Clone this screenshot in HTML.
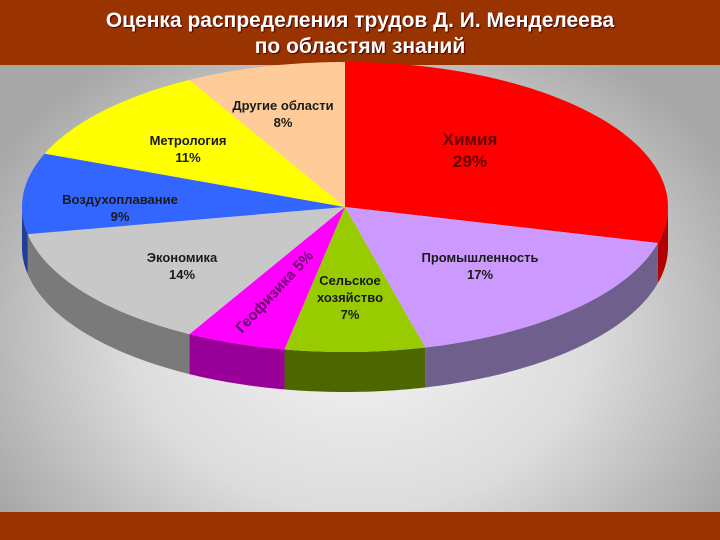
<!DOCTYPE html>
<html><head><meta charset="utf-8"><style>
body{margin:0;width:720px;height:540px;overflow:hidden;font-family:"Liberation Sans",sans-serif;}
#bg{position:absolute;left:0;top:0;width:720px;height:540px;background:radial-gradient(ellipse 420px 330px at 360px 330px,#f4f4f4 0%,#dcdcdc 55%,#a8a8a8 100%);}
#hdr{position:absolute;left:0;top:0;width:720px;height:65px;background:#993300;color:#fff;font-weight:bold;font-size:21px;text-align:center;line-height:26px;padding-top:8px;box-sizing:border-box;text-shadow:1px 1px 1px #400;}
#ftr{position:absolute;left:0;top:512px;width:720px;height:28px;background:#993300;}
svg{position:absolute;left:0;top:0;}
</style></head><body>
<div id="bg"></div>
<div id="hdr">Оценка распределения трудов Д. И. Менделеева<br>по областям знаний</div>
<div id="ftr"></div>
<svg id="chart" width="720" height="540"></svg>
<script>
const categories=["Химия","Промышленность","Сельское хозяйство","Геофизика","Экономика","Воздухоплавание","Метрология","Другие области"];
const values=[29,17,7,5,14,9,11,8];
const topColors=["#ff0000","#cc99ff","#99cc00","#ff00ff","#c8c8c8","#3366ff","#ffff00","#ffcc99"];
const sideColors=["#b00000","#6e5f8c","#4d6600","#990099","#7a7a7a","#1f3d99","#999900","#b08060"];
const cx=345,cy=207,rx=323,ry=145,depth=40;
const svg=document.getElementById('chart');const NS="http://www.w3.org/2000/svg";
const total=values.reduce((a,b)=>a+b,0);
function pt(a,dy){return [cx+rx*Math.sin(a),cy-ry*Math.cos(a)+(dy||0)];}
let acc=0;const slices=[];
values.forEach((v,i)=>{const a0=acc/total*2*Math.PI;acc+=v;const a1=acc/total*2*Math.PI;slices.push({a0,a1,i});});
// sides
slices.forEach(s=>{
  const lo=Math.max(s.a0,Math.PI/2),hi=Math.min(s.a1,3*Math.PI/2);
  if(hi<=lo)return;
  const n=40;let top=[],bot=[];
  for(let k=0;k<=n;k++){const a=lo+(hi-lo)*k/n;top.push(pt(a));bot.push(pt(a,depth));}
  const p=top.concat(bot.reverse()).map(q=>q.join(',')).join(' ');
  const el=document.createElementNS(NS,'polygon');el.setAttribute('points',p);el.setAttribute('fill',sideColors[s.i]);
  
  
  svg.appendChild(el);
});
// tops
slices.forEach(s=>{
  const n=60;let pts=[[cx,cy]];
  for(let k=0;k<=n;k++){pts.push(pt(s.a0+(s.a1-s.a0)*k/n));}
  const el=document.createElementNS(NS,'polygon');el.setAttribute('points',pts.map(q=>q.join(',')).join(' '));el.setAttribute('fill',topColors[s.i]);
  
  
  svg.appendChild(el);
});
// labels
const labelPos=[[470,145,17],[480,262,13],[350,285,13],[0,0,0],[182,262,13],[120,204,13],[188,145,13],[283,110,13]];
const labelLines=[["Химия"],["Промышленность"],["Сельское","хозяйство"],[],["Экономика"],["Воздухоплавание"],["Метрология"],["Другие области"]];
labelPos.forEach((lp,i)=>{
  if(i===3)return;
  const t=document.createElementNS(NS,'text');t.setAttribute('x',lp[0]);t.setAttribute('y',lp[1]);
  t.setAttribute('font-size',lp[2]);t.setAttribute('font-weight','bold');t.setAttribute('text-anchor','middle');
  t.setAttribute('fill',i===0?'#660000':'#1a1a1a');t.setAttribute('font-family','Liberation Sans, sans-serif');
  const lines=labelLines[i].concat([values[i]+'%']);
  lines.forEach((l,j)=>{const ts=document.createElementNS(NS,'tspan');ts.setAttribute('x',lp[0]);ts.setAttribute('dy',j?lp[2]*1.3:0);ts.textContent=l;t.appendChild(ts);});
  
  
  svg.appendChild(t);
});
const g=document.createElementNS(NS,'text');g.setAttribute('x',0);g.setAttribute('y',0);g.setAttribute('font-size',15);g.setAttribute('font-weight','bold');g.setAttribute('fill','#660066');
g.setAttribute('text-anchor','middle');g.setAttribute('font-family','Liberation Sans, sans-serif');
g.setAttribute('transform','translate(278,295) rotate(-47)');
g.textContent=categories[3]+' '+values[3]+'%';


svg.appendChild(g);
</script>
</body></html>
